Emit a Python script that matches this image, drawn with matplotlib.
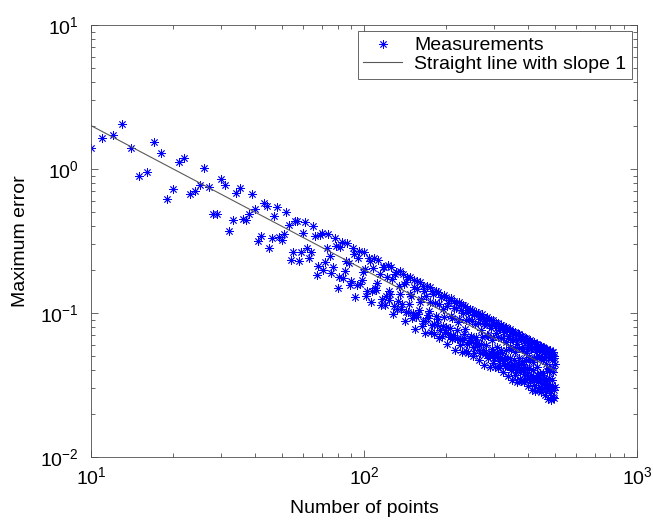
import numpy as np
import matplotlib
matplotlib.use("Agg")
import matplotlib.pyplot as plt

plt.rcParams['font.family'] = ['Liberation Sans', 'DejaVu Sans']
plt.rcParams['mathtext.fontset'] = 'custom'
plt.rcParams['mathtext.rm'] = 'Liberation Sans'
plt.rcParams['mathtext.it'] = 'Liberation Sans:italic'

# number of points used, 10 .. 500
n_points = np.arange(10, 501)

# maximum error (N = 10..99)
err_10_99 = [
    1.39, 1.65, 1.72, 2.04, 1.39, 0.90, 0.96, 1.53, 1.29, 0.62,
    0.73, 1.12, 1.19, 0.67, 0.70, 0.78, 1.02, 0.746, 0.484, 0.484,
    0.85, 0.77, 0.37, 0.44, 0.68, 0.74, 0.45, 0.44, 0.49, 0.674,
    0.526, 0.317, 0.345, 0.583, 0.551, 0.284, 0.332, 0.471, 0.545, 0.337,
    0.319, 0.353, 0.503, 0.410, 0.234, 0.264, 0.438, 0.434, 0.231, 0.267,
    0.357, 0.430, 0.282, 0.242, 0.266, 0.400, 0.340, 0.184, 0.213, 0.349,
    0.361, 0.198, 0.226, 0.283, 0.356, 0.247, 0.191, 0.208, 0.332, 0.293,
    0.150, 0.179, 0.287, 0.310, 0.175, 0.197, 0.231, 0.304, 0.222, 0.156,
    0.167, 0.281, 0.258, 0.130, 0.157, 0.241, 0.271, 0.160, 0.170, 0.192,
]

# N = 100..299
err_100_299 = [
    0.264, 0.201, 0.131, 0.141, 0.241, 0.231, 0.120, 0.143, 0.205, 0.240,
    0.150, 0.144, 0.161, 0.233, 0.185, 0.113, 0.125, 0.210, 0.210, 0.113,
    0.131, 0.177, 0.215, 0.142, 0.123, 0.136, 0.208, 0.171, 0.099, 0.112,
    0.185, 0.193, 0.106, 0.122, 0.154, 0.195, 0.136, 0.106, 0.116, 0.187,
    0.160, 0.0873, 0.102, 0.165, 0.179, 0.101, 0.115, 0.135, 0.179, 0.131,
    0.0923, 0.0993, 0.170, 0.151, 0.0777, 0.0935, 0.147, 0.166, 0.0981, 0.105,
    0.119, 0.164, 0.126, 0.0818, 0.0884, 0.155, 0.143, 0.0726, 0.0878, 0.131,
    0.154, 0.0965, 0.0927, 0.104, 0.151, 0.120, 0.0738, 0.0819, 0.141, 0.135,
    0.0709, 0.0843, 0.118, 0.143, 0.0951, 0.0824, 0.0914, 0.140, 0.116, 0.0669,
    0.0763, 0.129, 0.129, 0.0694, 0.0812, 0.106, 0.134, 0.0939, 0.0735, 0.0804,
    0.130, 0.112, 0.0609, 0.0714, 0.118, 0.123, 0.0682, 0.0785, 0.0956, 0.127,
    0.0929, 0.0656, 0.0708, 0.121, 0.108, 0.0557, 0.0671, 0.109, 0.118, 0.0670,
    0.0761, 0.0860, 0.119, 0.0913, 0.0595, 0.0644, 0.113, 0.105, 0.0532, 0.0644,
    0.0997, 0.113, 0.0668, 0.0715, 0.0769, 0.112, 0.0892, 0.0548, 0.0609, 0.105,
    0.101, 0.0529, 0.0630, 0.0912, 0.107, 0.0673, 0.0648, 0.0688, 0.105, 0.0873,
    0.0506, 0.0578, 0.0974, 0.0978, 0.0528, 0.0618, 0.0836, 0.102, 0.0678, 0.0589,
    0.0615, 0.0997, 0.0857, 0.0468, 0.0549, 0.0908, 0.0949, 0.0526, 0.0606, 0.0767,
    0.0976, 0.0683, 0.0535, 0.0549, 0.0944, 0.0842, 0.0434, 0.0523, 0.0847, 0.0923,
    0.0524, 0.0596, 0.0705, 0.0935, 0.0687, 0.0486, 0.0507, 0.0890, 0.0825, 0.0419,
    0.0509, 0.0788, 0.0892, 0.0529, 0.0566, 0.0644, 0.0893, 0.0685, 0.0447, 0.0485,
]

# N = 300..500
err_300_500 = [
    0.0835, 0.0806, 0.0423, 0.0503, 0.0729, 0.0857, 0.0539, 0.0520, 0.0584, 0.0851,
    0.0679, 0.0418, 0.0465, 0.0784, 0.0788, 0.0425, 0.0498, 0.0675, 0.0825, 0.0549,
    0.0477, 0.0530, 0.0812, 0.0673, 0.0390, 0.0446, 0.0738, 0.0772, 0.0428, 0.0494,
    0.0625, 0.0796, 0.0557, 0.0437, 0.0479, 0.0776, 0.0668, 0.0365, 0.0429, 0.0695,
    0.0757, 0.0430, 0.0490, 0.0580, 0.0769, 0.0565, 0.0400, 0.0432, 0.0743, 0.0663,
    0.0342, 0.0420, 0.0651, 0.0738, 0.0438, 0.0469, 0.0534, 0.0740, 0.0568, 0.0371,
    0.0403, 0.0708, 0.0656, 0.0334, 0.0419, 0.0607, 0.0714, 0.0450, 0.0433, 0.0488,
    0.0711, 0.0567, 0.0349, 0.0389, 0.0670, 0.0647, 0.0339, 0.0418, 0.0566, 0.0693,
    0.0461, 0.0400, 0.0445, 0.0683, 0.0566, 0.0329, 0.0376, 0.0634, 0.0638, 0.0344,
    0.0417, 0.0528, 0.0672, 0.0471, 0.0369, 0.0405, 0.0657, 0.0565, 0.0309, 0.0363,
    0.0601, 0.0630, 0.0349, 0.0416, 0.0492, 0.0653, 0.0480, 0.0340, 0.0368, 0.0633,
    0.0565, 0.0291, 0.0352, 0.0570, 0.0622, 0.0354, 0.0400, 0.0456, 0.0632, 0.0486,
    0.0317, 0.0344, 0.0605, 0.0561, 0.0286, 0.0347, 0.0538, 0.0610, 0.0362, 0.0372,
    0.0419, 0.0610, 0.0487, 0.0300, 0.0334, 0.0576, 0.0556, 0.0292, 0.0348, 0.0505,
    0.0594, 0.0374, 0.0345, 0.0384, 0.0589, 0.0489, 0.0284, 0.0324, 0.0548, 0.0551,
    0.0298, 0.0349, 0.0473, 0.0579, 0.0385, 0.0320, 0.0351, 0.0569, 0.0490, 0.0268,
    0.0315, 0.0522, 0.0547, 0.0303, 0.0350, 0.0444, 0.0565, 0.0396, 0.0296, 0.0320,
    0.0550, 0.0492, 0.0254, 0.0307, 0.0497, 0.0542, 0.0308, 0.0351, 0.0416, 0.0552,
    0.0406, 0.0277, 0.0301, 0.0529, 0.0491, 0.0250, 0.0303, 0.0471, 0.0534, 0.0317,
    0.0340, 0.0387, 0.0537, 0.0413, 0.0263, 0.0293, 0.0505, 0.0488, 0.0256, 0.0306,
    0.0443,
]

max_error = np.array(err_10_99 + err_100_299 + err_300_500)

# reference line with slope 1 (end points)
line_n = [10, 500]
line_err = [2.0, 0.04]

fig = plt.figure(figsize=(6.53, 5.2), dpi=100)
ax = fig.add_axes([0.1394, 0.1212, 0.836, 0.8308])

ax.loglog(n_points, max_error, linestyle='none', marker=(8, 2, 0),
          markersize=6, markeredgewidth=0.6, color='#0000ff',
          label='Measurements')
ax.loglog(line_n, line_err, '-', color='0.35', linewidth=0.8,
          label='Straight line with slope 1')

ax.set_xlim(10, 1000)
ax.set_ylim(0.01, 10)

ax.set_xlabel('Number of points', fontsize=14, labelpad=8)
ax.set_ylabel('Maximum error', fontsize=14, labelpad=8)

ax.tick_params(which='both', direction='in', top=True, right=True,
               labelsize=14, color='0.3')
ax.tick_params(axis='y', which='major', pad=9)
ax.tick_params(axis='x', which='major', pad=7)
ax.tick_params(which='major', length=5, width=0.6)
ax.tick_params(which='minor', length=3, width=0.6)
for s in ax.spines.values():
    s.set_linewidth(0.6)
    s.set_color('0.3')

leg = ax.legend(loc='upper right', bbox_to_anchor=(1 - 5/546, 1 - 6/432),
                borderaxespad=0, fancybox=False, framealpha=1,
                edgecolor='0.3', fontsize=14, handlelength=2.0,
                borderpad=0.3, labelspacing=0.05, handletextpad=0.6)
leg.get_frame().set_linewidth(0.6)

fig.savefig('out.png', dpi=100)
